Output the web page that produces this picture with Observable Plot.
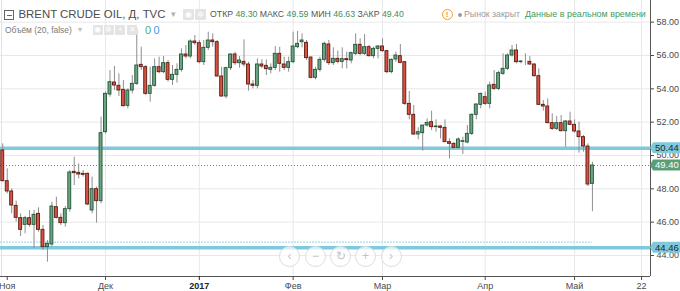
<!DOCTYPE html>
<html><head><meta charset="utf-8">
<script src="https://cdn.jsdelivr.net/npm/d3@7"></script>
<script src="https://cdn.jsdelivr.net/npm/@observablehq/plot@0.6"></script>
<style>
html,body{margin:0;padding:0;background:#fff;}
#wrap{position:relative;width:680px;height:291px;overflow:hidden;font-family:"Liberation Sans",Arial,sans-serif;}
.hd{position:absolute;white-space:nowrap;line-height:1;}
.ib{position:absolute;background:#e4e4e4;border-radius:1px;color:#fff;font-size:8px;line-height:10px;text-align:center;}
.nav{position:absolute;width:19px;height:19px;border:1px solid #dcdcdc;border-radius:50%;background:rgba(255,255,255,0.7);color:#c4c4c4;font-size:12px;line-height:19px;text-align:center;}
</style></head><body><div id="wrap"></div>
<script>
// ---- data (bar index 0 = 31 Oct 2016 ... 132 = 5 May 2017) ----
const opens = [50.30,48.46,47.84,46.98,46.24,45.84,46.24,45.84,46.50,45.54,44.50,44.66,46.90,46.26,45.94,46.78,49.02,48.96,48.90,48.90,
46.70,47.98,47.26,51.40,53.66,54.38,54.18,53.94,52.98,53.90,54.30,55.44,55.30,53.70,54.18,55.30,55.00,55.54,54.54,54.84,
55.14,56.06,55.94,56.84,56.74,55.60,56.46,56.90,56.80,54.74,53.54,55.24,56.06,55.54,55.62,55.46,54.26,54.18,55.46,55.38,
55.14,55.26,56.10,55.46,55.26,55.60,56.50,56.80,56.76,55.88,54.66,55.14,55.74,56.66,55.54,55.80,55.62,55.78,55.70,56.10,
56.64,56.10,56.50,55.96,56.40,56.54,56.26,55.00,55.76,55.96,55.60,53.10,52.44,51.26,51.34,51.80,52.00,51.70,51.74,51.66,
50.80,50.70,50.46,50.82,50.78,51.30,52.44,53.04,53.50,53.10,54.24,54.00,54.90,55.20,56.00,56.30,55.60,55.62,55.62,55.46,
54.76,53.04,52.94,51.94,51.60,51.94,51.46,52.04,51.84,51.44,51.10,50.54,48.30];
const highs = [50.70,49.20,48.00,47.26,46.50,46.34,46.70,46.70,46.86,45.80,44.90,47.20,47.50,46.50,46.94,49.10,49.90,49.50,49.10,48.95,
48.70,48.10,52.30,53.80,55.10,55.34,54.90,54.50,54.00,54.80,57.60,56.50,55.40,55.30,55.80,55.90,55.94,55.70,55.40,55.50,
56.40,56.60,56.94,57.20,56.90,56.90,57.40,57.30,56.90,55.30,55.30,56.10,56.20,55.94,56.94,55.60,54.50,55.80,55.74,55.74,
55.50,56.54,56.50,55.90,55.90,57.40,57.44,57.30,56.90,55.90,55.30,55.90,56.80,56.90,56.46,56.26,56.46,56.20,56.20,57.30,
57.00,57.26,56.60,56.50,56.60,57.00,56.30,55.80,56.20,56.66,55.60,53.84,53.00,51.66,51.80,52.20,52.66,52.14,51.80,52.14,
51.00,50.76,51.06,51.10,51.80,52.50,53.10,53.74,53.80,54.40,55.10,55.06,56.10,56.10,56.60,56.66,55.70,56.10,55.94,55.50,
55.20,53.30,53.40,52.50,52.34,52.40,52.10,52.60,52.14,52.00,51.20,50.70,49.59];
const lows = [48.40,47.70,46.50,46.00,45.14,45.30,45.70,44.40,45.40,44.30,43.60,44.50,46.20,45.80,45.70,46.60,48.20,48.60,48.70,47.00,
46.50,45.94,47.10,51.30,53.50,53.90,53.54,52.90,52.80,53.70,54.20,55.10,53.60,53.20,54.10,54.90,54.90,54.40,54.20,54.34,
55.00,55.80,55.80,56.60,55.50,55.40,56.30,56.50,54.70,53.50,53.40,55.10,55.40,55.24,55.30,53.86,54.00,54.00,55.20,54.80,
54.90,55.10,55.00,55.10,55.00,55.50,56.40,56.46,55.70,54.60,54.54,55.00,55.60,55.40,55.40,55.50,55.20,55.20,55.50,56.00,
56.00,56.00,55.90,55.80,55.80,56.20,54.90,54.90,55.60,55.50,53.00,52.14,51.20,50.94,50.26,51.70,51.50,51.40,51.00,50.80,
49.80,50.40,50.40,50.06,50.70,51.20,52.14,52.80,53.00,52.80,53.90,53.90,54.80,55.10,55.90,55.50,55.50,55.40,55.40,54.70,
53.00,52.66,51.90,51.50,51.50,51.40,50.50,51.80,51.34,50.14,50.20,48.14,46.63];
const closes = [48.46,47.84,47.00,46.26,45.54,46.24,45.84,46.44,45.54,44.50,44.70,46.94,46.26,45.94,46.78,48.98,48.94,48.86,48.84,47.06,
47.98,47.26,51.34,53.70,54.40,54.20,53.90,52.96,53.90,54.30,55.40,55.30,53.70,54.18,55.30,55.00,55.54,54.54,54.84,55.14,
56.06,55.94,56.84,56.74,55.60,56.46,56.90,56.80,54.74,53.54,55.24,56.06,55.54,55.70,55.46,54.26,54.18,55.46,55.34,55.18,
55.26,56.10,55.50,55.26,55.60,56.54,56.70,56.90,55.84,54.66,55.14,55.74,56.70,55.54,55.80,55.62,55.78,55.72,56.14,56.64,
56.10,56.50,55.96,56.40,56.54,56.26,55.00,55.74,56.00,55.56,53.10,52.44,51.26,51.40,51.80,51.96,51.70,51.74,51.66,50.80,
50.70,50.46,50.96,50.86,51.30,52.44,53.06,53.70,53.10,54.20,54.00,54.94,55.20,56.00,56.30,55.60,55.64,55.62,55.46,54.76,
53.04,52.94,51.94,51.60,51.94,51.46,52.04,51.84,51.44,51.10,50.54,48.26,49.40];
const priceTicks = [44,46,48,50,52,54,56,58];
const monthTicks = [1,23,44,65,85,108,128,143];
const monthLabels = ["Ноя","Дек","2017","Фев","Мар","Апр","Май","22"];
const levelLines = [50.44,44.46];
const lastPrice = 49.40;
const zoneLine = 44.80;
const header = {title:"BRENT CRUDE OIL, Д, TVC", o:"48.30", h:"49.59", l:"46.63", c:"49.40"};

// ---- chart ----
const up = "#6ba583", upB = "#225437", dn = "#d75442", dnB = "#5b1a13";
const candles = opens.map((o,i)=>({i, o, h:highs[i], l:lows[i], c:closes[i]}));
const xDom = [-0.506, 145.0], yDom = [42.74, 59.3];
const lastIdx = candles.length - 1;

const chart = Plot.plot({
  width: 680, height: 291,
  marginLeft: 0, marginRight: 30, marginTop: 0, marginBottom: 15,
  style: {fontFamily: '"Liberation Sans", Arial, sans-serif', fontSize: "9px", background: "#fff"},
  x: {domain: xDom, axis: null, label: null},
  y: {domain: yDom, axis: null, label: null},
  color: {type: "identity"},
  marks: [
    Plot.gridY(priceTicks, {stroke: "#e8e8e8", strokeOpacity: 1}),
    Plot.gridX(monthTicks.slice(1), {stroke: "#e8e8e8", strokeOpacity: 1}),
    Plot.ruleX([xDom[0]], {stroke: "#e2e2e2", dx: 1}),
    Plot.ruleY([zoneLine], {x1: xDom[0], x2: lastIdx, stroke: "#a9dcea", strokeWidth: 1.2, strokeDasharray: "2,1"}),
    Plot.ruleY(levelLines, {stroke: "#80c9dc", strokeWidth: 3.5}),
    Plot.ruleY([lastPrice], {stroke: "#4f9a6c", strokeWidth: 1, strokeDasharray: "1,2"}),
    Plot.ruleX(candles, {x: "i", y1: "l", y2: "h", stroke: "#8e8e8e", strokeWidth: 1}),
    Plot.rect(candles, {
      x1: d => d.i - 0.33, x2: d => d.i + 0.33,
      y1: d => Math.min(d.o, d.c), y2: d => Math.max(d.o, d.c),
      fill: d => d.c >= d.o ? up : dn,
      stroke: d => d.c >= d.o ? upB : dnB, strokeWidth: 0.9
    }),
    Plot.ruleX([xDom[1]], {stroke: "#555"}),
    Plot.ruleY([yDom[0]], {stroke: "#555"}),
    Plot.axisY(priceTicks, {anchor: "right", label: null, tickSize: 3, tickPadding: 3, tickFormat: d => d.toFixed(2), color: "#4a4a4a", fontSize: 9}),
    Plot.axisX(monthTicks.filter((d,k)=>monthLabels[k] !== "2017"), {anchor: "bottom", label: null, tickSize: 4, tickPadding: 2,
      tickFormat: d => monthLabels[monthTicks.indexOf(d)], color: "#4a4a4a", fontSize: 9}),
    Plot.axisX(monthTicks.filter((d,k)=>monthLabels[k] === "2017"), {anchor: "bottom", label: null, tickSize: 4, tickPadding: 2,
      tickFormat: d => monthLabels[monthTicks.indexOf(d)], color: "#222", fontSize: 9, fontWeight: "bold"})
  ]
});
const wrap = document.getElementById("wrap");
wrap.appendChild(chart);

// price label boxes on the right axis, placed with the plot's own y scale
const ys = chart.scale("y");
const svg = d3.select(chart);
function priceBox(v, fill, color) {
  const y = ys.apply(v);
  const g = svg.append("g");
  g.append("path").attr("d", `M650,${y} L653,${y-5.5} L680,${y-5.5} L680,${y+5.5} L653,${y+5.5} Z`).attr("fill", fill);
  g.append("text").attr("x", 655).attr("y", y).attr("dy", "0.35em").attr("fill", color)
    .attr("text-anchor", "start")
    .attr("font-size", 9.5).attr("font-family", '"Liberation Sans", Arial, sans-serif').text(v.toFixed(2));
}
levelLines.forEach(v => priceBox(v, "#80c9dc", "#1c2b30"));
priceBox(lastPrice, "#5a9e78", "#ffffff");

// ---- header overlay ----
function addText(html, left, cy, size, color, targetW, weight) {
  const s = document.createElement("span");
  s.className = "hd"; s.innerHTML = html;
  s.style.left = left + "px"; s.style.fontSize = size + "px"; s.style.color = color;
  if (weight) s.style.fontWeight = weight;
  wrap.appendChild(s);
  if (targetW) {
    const w = s.getBoundingClientRect().width;
    s.style.fontSize = (size * targetW / w) + "px";
  }
  const h = s.getBoundingClientRect().height;
  s.style.top = (cy - h / 2) + "px";
  return s;
}
// collapse box
const cb = document.createElement("div");
cb.style.cssText = "position:absolute;left:4px;top:10px;width:8px;height:8px;border:1px solid #666;";
cb.innerHTML = '<div style="position:absolute;left:1.5px;top:3.5px;width:5px;height:1px;background:#666"></div>';
wrap.appendChild(cb);
addText(header.title, 18.5, 14.5, 11.5, "#4d4d4d", 147);
addText("▾", 171, 14.5, 9, "#b0b0b0");
[[183,"◉"],[195,"✲"]].forEach(([x,g])=>{const b=document.createElement("div");b.className="ib";b.style.cssText+=`left:${x}px;top:9px;width:11px;height:11px;line-height:11px;`;b.textContent=g;wrap.appendChild(b);});
const G = "#3f8d5d";
addText(`ОТКР <span style="color:${G}">${header.o}</span> МАКС <span style="color:${G}">${header.h}</span> МИН <span style="color:${G}">${header.l}</span> ЗАКР <span style="color:${G}">${header.c}</span>`,
  210, 14.5, 9.5, "#555", 194);
const warn = document.createElement("div");
warn.style.cssText = "position:absolute;left:441.5px;top:9px;width:9px;height:9px;border:1.3px solid #f29b3a;border-radius:50%;color:#f29b3a;font-size:8px;line-height:9px;text-align:center;font-weight:bold;";
warn.textContent = "!"; wrap.appendChild(warn);
const dot = document.createElement("div");
dot.style.cssText = "position:absolute;left:457.5px;top:12.5px;width:4px;height:4px;border-radius:50%;background:#9a9a9a;";
wrap.appendChild(dot);
addText("Рынок закрыт", 464, 14.5, 10, "#9a9a9a", 56);
addText("Данные в реальном времени", 525, 14.5, 10, "#3f9a62", 121);
// volume line
addText("Объём (20, false)", 5, 30, 9.5, "#7a7a7a", 67);
addText("▾", 78, 30, 8, "#bbbbbb");
[[92.5,"◉"],[103.5,"✲"],[115,"+"],[127,"✕"]].forEach(([x,g])=>{const b=document.createElement("div");b.className="ib";b.style.cssText+=`left:${x}px;top:25px;width:10px;height:10px;line-height:10px;`;b.textContent=g;wrap.appendChild(b);});
addText("0", 145, 30, 11, "#4caf74");
addText("0", 153.5, 30, 11, "#3d9bf0");
// navigation buttons
[[289,"‹"],[315,"−"],[340,"↻"],[365,"+"],[390.5,"›"]].forEach(([x,g])=>{
  const b = document.createElement("div"); b.className = "nav";
  b.style.left = (x - 10) + "px"; b.style.top = (256 - 10) + "px"; b.textContent = g; wrap.appendChild(b);
});
</script></body></html>
